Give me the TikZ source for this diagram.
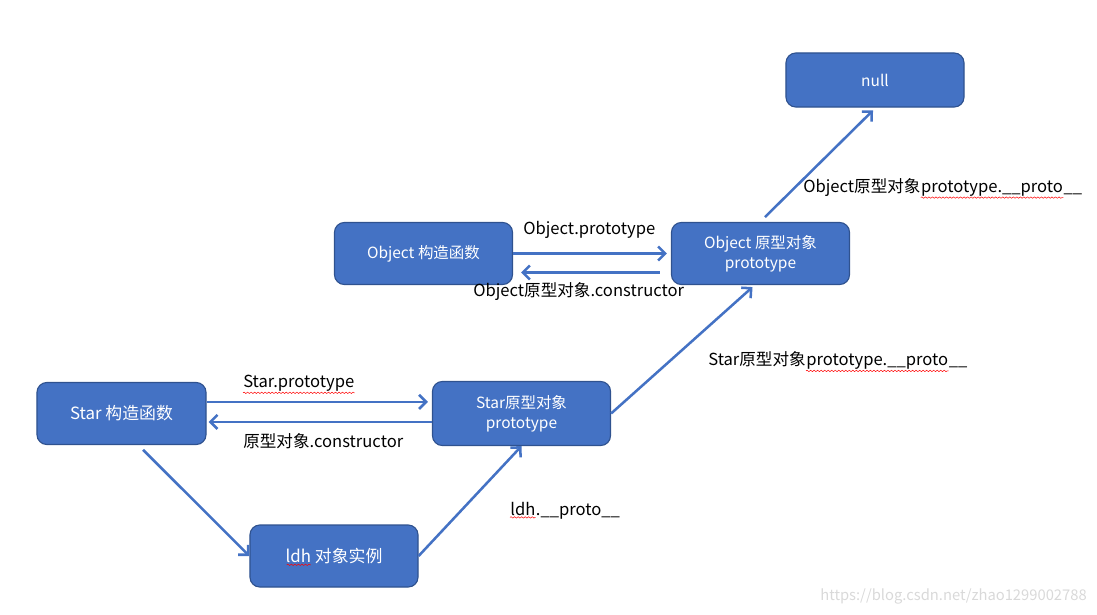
\documentclass[tikz,border=0pt]{standalone}
\usepackage{fontspec}
\usepackage{tikz}
\usetikzlibrary{arrows.meta,decorations.pathmorphing}
\setmainfont{Noto Sans CJK SC}
\definecolor{boxblue}{HTML}{4472C4}
\definecolor{boxline}{HTML}{2F528F}

\begin{document}
\begin{tikzpicture}[x=0.025cm,y=-0.025cm]
\tikzstyle{box}=[rectangle,rounded corners=7pt,draw=boxline,fill=boxblue,text=white,line width=0.8pt,minimum width=4.45cm,minimum height=1.55cm,align=center,font=\fontsize{11}{14}\selectfont]
\tikzstyle{bigbox}=[box,font=\fontsize{12}{14}\selectfont]
\tikzstyle{link}=[draw=boxblue,line width=1.8pt,-{Straight Barb[length=5pt,width=10pt]}]
\tikzstyle{lbl}=[anchor=west,inner sep=0pt,font=\fontsize{11.8}{14}\selectfont]
\tikzstyle{part}=[lbl,anchor=base west]
\tikzstyle{squig}=[red,line width=0.35pt,decorate,decoration={snake,segment length=2.5pt,amplitude=0.5pt}]

\useasboundingbox (0,0) rectangle (1097,614);

\node[box,minimum height=1.35cm] (null) at (875,80) {null};
\node[box] (obj) at (423.5,253.5) {Object 构造函数};
\node[box] (objp) at (760.5,253.5) {Object 原型对象\\prototype};
\node[bigbox,minimum width=4.225cm] (star) at (121.5,413.5) {Star 构造函数};
\node[box,minimum height=1.6cm] (starp) at (521.5,413.5) {Star原型对象\\prototype};
\node[bigbox,minimum width=4.2cm] (ldh) at (334,556) {ldh 对象实例};

\draw[link] (obj.east) -- ([xshift=-0.1cm]objp.west);
\draw[link] ([xshift=-0.275cm,yshift=-0.475cm]objp.west) -- ([xshift=0.2cm,yshift=-0.475cm]obj.east);
\draw[link] ([yshift=0.29cm]star.east) -- ([xshift=-0.1cm,yshift=0.29cm]starp.west);
\draw[link] ([yshift=-0.21cm]starp.west) -- ([xshift=0.05cm,yshift=-0.21cm]star.east);
\draw[link] ([xshift=0.54cm,yshift=-0.12cm]star.south) -- (ldh.west);
\draw[link] (ldh.east) -- (starp.south);
\draw[link] (starp.east) -- ([xshift=-0.2cm,yshift=-0.05cm]objp.south);
\draw[link] ([xshift=0.11cm,yshift=0.12cm]objp.north) -- ([xshift=-0.05cm,yshift=-0.07cm]null.south);

\node[lbl] (l1) at (523,230) {Object.prototype};
\node[lbl] (l2) at (473,291) {Object原型对象.constructor};
\node[lbl] (l3) at (243,383) {Star.prototype};
\node[lbl] (l4) at (243,441) {原型对象.constructor};
\node[lbl] (l5a) at (510,509) {ldh};
\node[part] (l5b) at (l5a.base east) {.\_\_proto\_\_};
\node[lbl] (l6a) at (708,359) {Star原型对象};
\node[part] (l6b) at (l6a.base east) {prototype.\_\_proto};
\node[part] (l6c) at (l6b.base east) {\_\_};
\node[lbl] (l7a) at (803,187) {Object原型对象};
\node[part] (l7b) at (l7a.base east) {prototype.\_\_proto};
\node[part] (l7c) at (l7b.base east) {\_\_};
\node[lbl,text=black!15,font=\fontsize{10.5}{12}\selectfont] (mark) at (820,596) {https://blog.csdn.net/zhao1299002788};

\draw[squig] ([yshift=-1pt]l3.south west) -- ([yshift=-1pt]l3.south east);
\draw[squig] ([yshift=-1pt]l5a.south west) -- ([yshift=-1pt]l5a.south east);
\draw[squig] ([yshift=-1pt]l6b.south west) -- ([yshift=-1pt]l6b.south east);
\draw[squig] ([yshift=-1pt]l7b.south west) -- ([yshift=-1pt]l7b.south east);
\draw[squig] ([xshift=-1.18cm,yshift=-0.22cm]ldh.center) -- ([xshift=-0.58cm,yshift=-0.22cm]ldh.center);
\end{tikzpicture}
\end{document}
